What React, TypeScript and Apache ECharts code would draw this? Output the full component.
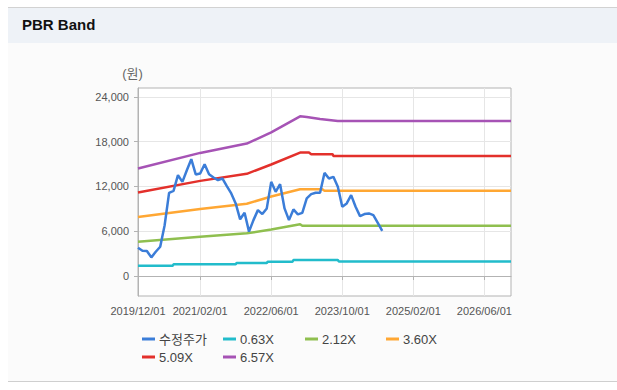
import React, { useEffect, useRef } from 'react';
import * as echarts from 'echarts';

// x = months since 2019/12/01
const xTickMonths = [0, 14, 30, 46, 62, 78];
const xTickLabels = ['2019/12/01', '2021/02/01', '2022/06/01', '2023/10/01', '2025/02/01', '2026/06/01'];
const yTicks = [0, 6000, 12000, 18000, 24000];

const seriesNames = ['수정주가', '0.63X', '2.12X', '3.60X', '5.09X', '6.57X'];
const seriesColors = ['#3b7dd8', '#22bccb', '#8fbf4f', '#ffa733', '#e3302b', '#a653b5'];

// monthly adjusted price (index = month)
const price = [
  3790, 3390, 3350, 2500, 3250, 3920, 6800, 11150, 11400, 13510,
  12620, 14180, 15660, 13610, 13740, 14990, 13650, 13210, 12850, 13070,
  12040, 11070, 9730, 7600, 8470, 5950, 7490, 8830, 8300, 9060,
  12620, 11280, 12310, 9060, 7490, 8920, 8260, 8470, 10400, 10970,
  11150, 11150, 13820, 13070, 13290, 11950, 9280, 9730, 10840, 9280,
  8030, 8300, 8390, 8160, 7130, 6060,
];

// band lines: [month, value]
const band063 = [[0, 1380], [7.8, 1380], [8, 1565], [22, 1565], [22.2, 1740], [29, 1740], [29.2, 1915], [34.8, 1915], [35, 2140], [45, 2140], [45.2, 1960], [84, 1960]];
const band212 = [[0, 4600], [14, 5270], [24.5, 5720], [30, 6230], [36.5, 6940], [37, 6730], [84, 6730]];
const band360 = [[0, 7900], [14, 8980], [24.5, 9680], [30, 10650], [36.5, 11620], [41.5, 11620], [42, 11420], [84, 11420]];
const band509 = [[0, 11200], [14, 12750], [24.5, 13700], [30, 14950], [36.5, 16550], [38.5, 16550], [39, 16330], [43.8, 16330], [44, 16100], [84, 16100]];
const band657 = [[0, 14410], [14, 16500], [24.5, 17750], [30, 19250], [36.5, 21400], [38, 21300], [41, 21050], [45, 20790], [84, 20790]];

export default function App() {
  const ref = useRef<HTMLDivElement>(null);
  useEffect(() => {
    if (!ref.current) return;
    const chart = echarts.init(ref.current, null, { renderer: 'svg' });
    const bands = [band063, band212, band360, band509, band657];
    const legendLeft = [142, 223, 305, 386, 142, 223];
    const legendTop = [331, 331, 331, 331, 349, 349];
    const font = '"Liberation Sans", Arial, "Noto Sans CJK KR", sans-serif';
    const series: any[] = [
      {
        name: seriesNames[0],
        type: 'line',
        data: price.map((v, i) => [i, v]),
        showSymbol: false,
        lineStyle: { width: 2.5, color: seriesColors[0] },
        itemStyle: { color: seriesColors[0] },
        z: 5,
      },
      ...bands.map((b, i) => ({
        name: seriesNames[i + 1],
        type: 'line',
        data: b,
        showSymbol: false,
        lineStyle: { width: 2.5, color: seriesColors[i + 1] },
        itemStyle: { color: seriesColors[i + 1] },
        z: 3,
      })),
    ];
    chart.setOption({
      animation: false,
      backgroundColor: '#ffffff',
      textStyle: { fontFamily: font },
      graphic: [
        { type: 'rect', shape: { x: 8, y: 43, width: 609, height: 338 }, style: { fill: '#fbfbfb' }, z: -10 },
        { type: 'rect', shape: { x: 8, y: 8, width: 609, height: 35 }, style: { fill: '#eef2f7' }, z: -10 },
        { type: 'line', shape: { x1: 8, y1: 7.5, x2: 617, y2: 7.5 }, style: { stroke: '#d2d2d2', lineWidth: 1 }, z: -9 },
        { type: 'line', shape: { x1: 8, y1: 381.5, x2: 617, y2: 381.5 }, style: { stroke: '#cfcfcf', lineWidth: 1 }, z: -9 },
      ],
      title: {
        text: 'PBR Band',
        left: 22,
        top: 17,
        padding: 0,
        textStyle: { fontSize: 15, fontWeight: 'bold', color: '#111', fontFamily: font },
      },
      legend: seriesNames.map((n, i) => ({
        data: [n],
        left: legendLeft[i],
        top: legendTop[i],
        padding: 0,
        icon: 'rect',
        itemWidth: 13,
        itemHeight: 3,
        itemGap: 0,
        selectedMode: false,
        textStyle: { fontSize: 13, color: '#444', lineHeight: 16, padding: [0, 0, 0, -1], fontFamily: font },
      })),
      grid: {
        left: 138,
        right: 106,
        top: 88,
        bottom: 94,
        show: true,
        borderColor: '#b3b3b3',
        borderWidth: 1,
        backgroundColor: '#ffffff',
      },
      xAxis: {
        type: 'value',
        min: 0,
        max: 84,
        axisLine: { show: true, lineStyle: { color: '#b3b3b3' } },
        axisTick: { show: true, length: 4, customValues: xTickMonths, lineStyle: { color: '#b3b3b3' } },
        axisLabel: {
          customValues: xTickMonths,
          margin: 9,
          fontSize: 11,
          color: '#555',
          fontFamily: font,
          formatter: (v: number) => {
            const k = xTickMonths.indexOf(Math.round(v));
            return k >= 0 ? xTickLabels[k] : '';
          },
        },
        splitLine: { show: true, lineStyle: { color: '#e6e6e6', width: 1 } },
      },
      yAxis: {
        type: 'value',
        min: -2680,
        max: 25200,
        name: '(원)',
        nameLocation: 'end',
        nameGap: 8,
        nameTextStyle: { fontSize: 13, color: '#666', align: 'center', padding: [0, 11, 0, 0], fontFamily: font },
        axisLine: { show: true, lineStyle: { color: '#b3b3b3' } },
        axisTick: { show: true, length: 4, customValues: yTicks, lineStyle: { color: '#b3b3b3' } },
        axisLabel: {
          customValues: yTicks,
          margin: 9,
          fontSize: 11,
          color: '#555',
          fontFamily: font,
          formatter: (v: number) => v.toLocaleString('en-US'),
        },
        splitLine: { show: true, lineStyle: { color: '#e6e6e6', width: 1 } },
      },
      series,
    });
    return () => chart.dispose();
  }, []);
  return <div ref={ref} style={{ position: 'absolute', left: 0, top: 0, width: 617, height: 390 }} />;
}
